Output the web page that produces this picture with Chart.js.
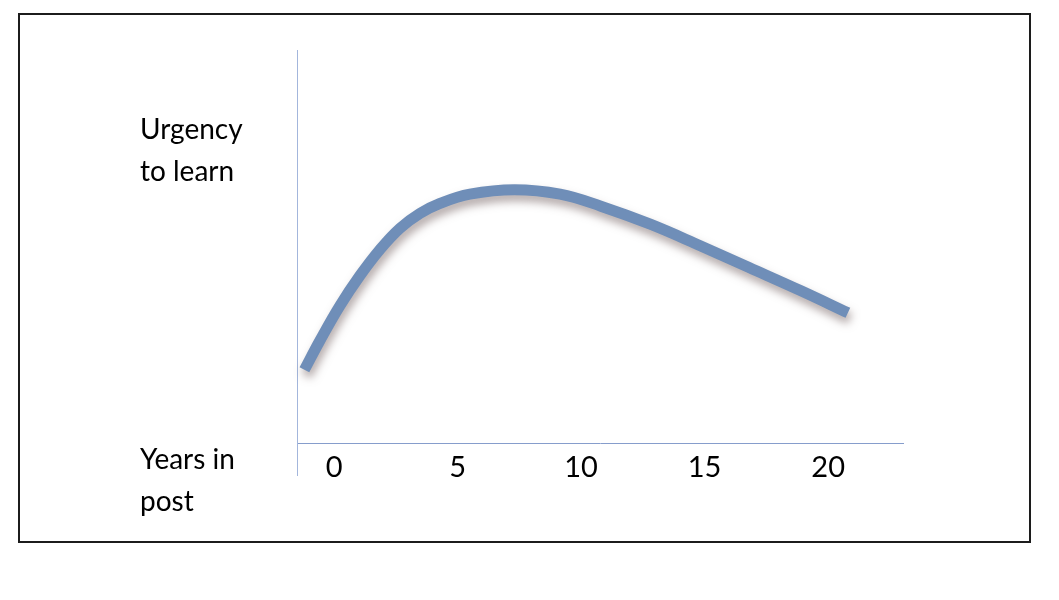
<!DOCTYPE html>
<html><head><meta charset="utf-8">
<script src="https://cdn.jsdelivr.net/npm/chart.js@4/dist/chart.umd.min.js"></script>
<style>
html,body{margin:0;padding:0;background:#fff;}
#wrap{position:relative;width:1059px;height:600px;overflow:hidden;}
#frame{position:absolute;left:18px;top:13px;width:1009px;height:526px;border:2px solid #1c1c1c;}
canvas{position:absolute;left:0;top:0;}
</style></head><body>
<div id="wrap"><div id="frame"></div><canvas id="c" width="1059" height="600"></canvas></div>
<script>
// Data
const yearsInPost    = [-1.2, -0.57, 0.24, 1.05, 1.86, 2.67, 3.48, 4.29, 5.5, 7.3, 9.15, 10.8, 12.8, 14.8, 16.8, 18.9, 20.8];
const urgencyToLearn = [18.5, 25.8, 34.5, 42, 48.5, 53.8, 57.5, 60, 62.3, 63.4, 62.3, 59.3, 54.8, 49.5, 44, 38.2, 32.7];
const xTickValues = [0, 5, 10, 15, 20];
const yLabelValues = [73, -9.25];
const yLabelTexts = [['Urgency', 'to learn'], ['Years in', 'post']];

const points = yearsInPost.map((x, i) => ({x: x, y: urgencyToLearn[i]}));

const shadowPlugin = {
  id: 'lineShadow',
  beforeDatasetDraw(chart) {
    const c = chart.ctx; c.save();
    c.shadowColor = 'rgba(105,85,85,0.5)';
    c.shadowBlur = 9; c.shadowOffsetX = 2; c.shadowOffsetY = 6;
  },
  afterDatasetDraw(chart) { chart.ctx.restore(); }
};

const FONT = 'Lato';

new Chart(document.getElementById('c'), {
  type: 'line',
  data: {
    datasets: [{
      data: points,
      borderColor: 'rgb(111,142,184)',
      borderWidth: 11,
      borderCapStyle: 'butt',
      borderJoinStyle: 'round',
      pointRadius: 0,
      tension: 0.4,
      fill: false,
      clip: false
    }]
  },
  options: {
    responsive: false,
    animation: false,
    layout: {padding: {left: 140, top: 50, right: 156, bottom: 125}},
    plugins: {legend: {display: false}, tooltip: {enabled: false}},
    scales: {
      x: {
        type: 'linear',
        position: {y: 0},
        min: -1.5, max: 23.03,
        afterBuildTicks(s) { s.ticks = xTickValues.map(v => ({value: v})); },
        afterFit(s) { s.height = 1; },
        ticks: {padding: 6, color: '#000', maxRotation: 0, autoSkip: false,
                font: {family: FONT, size: 29}, callback: v => String(v)},
        grid: {display: true, drawOnChartArea: false, drawTicks: false},
        border: {display: true, color: '#869dcc', width: 1}
      },
      y: {
        type: 'linear',
        min: -7.75, max: 98.25,
        afterBuildTicks(s) { s.ticks = yLabelValues.map(v => ({value: v})); },
        afterFit(s) { s.width = 157; },
        ticks: {crossAlign: 'far', padding: 0, color: '#000', autoSkip: false,
                font: {family: FONT, size: 28, lineHeight: 1.5},
                callback: (v, i) => yLabelTexts[i]},
        grid: {display: true, drawOnChartArea: false, drawTicks: false},
        border: {display: true, color: '#a3b6dc', width: 1}
      }
    }
  },
  plugins: [shadowPlugin]
});
</script>
</body></html>
